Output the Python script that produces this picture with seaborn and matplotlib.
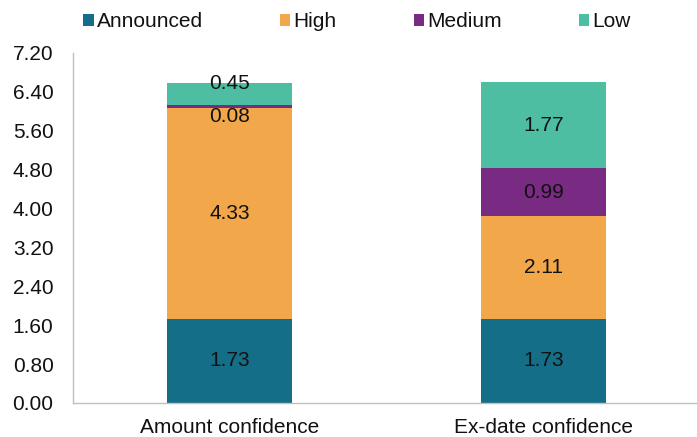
import matplotlib
matplotlib.use("Agg")
import matplotlib.pyplot as plt
import seaborn as sns
import pandas as pd
from matplotlib.patches import Patch

sns.set_theme(style="white")
plt.rcParams["font.family"] = ["Liberation Sans", "DejaVu Sans"]

categories = ["Amount confidence", "Ex-date confidence"]
series = ["Announced", "High", "Medium", "Low"]
announced = [1.73, 1.73]
high = [4.33, 2.11]
medium = [0.08, 0.99]
low = [0.45, 1.77]
colors = ["#146E87", "#F2A84A", "#792A83", "#4DBEA1"]
yticks = [0.0, 0.8, 1.6, 2.4, 3.2, 4.0, 4.8, 5.6, 6.4, 7.2]

values = [announced, high, medium, low]
FS = 15

fig = plt.figure(figsize=(6.97, 4.37), dpi=100)
ax = fig.add_axes([73 / 697, 1 - 403 / 437, 624 / 697, 350 / 437])

# label nudges (points) to keep thin-segment labels from colliding
nudges = {(0, 2): -7, (0, 3): 7}

bottom = [0.0, 0.0]
for si, (name, vals, col) in enumerate(zip(series, values, colors)):
    df = pd.DataFrame({"cat": categories, "val": vals})
    sns.barplot(data=df, x="cat", y="val", color=col, width=0.4,
                bottom=bottom, ax=ax, saturation=1, linewidth=0, label=name)
    for ci, v in enumerate(vals):
        yc = bottom[ci] + v / 2
        ax.annotate(f"{v:.2f}", (ci, yc), xytext=(0, nudges.get((ci, si), 0)),
                    textcoords="offset points", ha="center", va="center",
                    fontsize=FS, color="#111111")
    bottom = [b + v for b, v in zip(bottom, vals)]

ax.set_ylim(0, 7.2)
ax.set_yticks(yticks)
ax.set_yticklabels([f"{t:.2f}" for t in yticks], fontsize=FS)
ax.set_xlim(-0.5, 1.49)
ax.tick_params(axis="x", labelsize=FS, length=0, pad=10.5, colors="#111111")
ax.tick_params(axis="y", length=0, pad=14, colors="#111111")
ax.set_xlabel("")
ax.set_ylabel("")
for s in ["top", "right"]:
    ax.spines[s].set_visible(False)
for s in ["left", "bottom"]:
    ax.spines[s].set_color("#BFBFBF")
    ax.spines[s].set_linewidth(1)

handles = [Patch(facecolor=c, edgecolor="none") for c in colors]
leg = ax.legend(handles, series, ncol=4, loc="center", bbox_to_anchor=(0.455, 1.089),
                frameon=False, fontsize=FS, handlelength=0.5, handleheight=0.5,
                handletextpad=0.15, columnspacing=3.7, labelcolor="#111111")

fig.savefig("out.png", dpi=100)
